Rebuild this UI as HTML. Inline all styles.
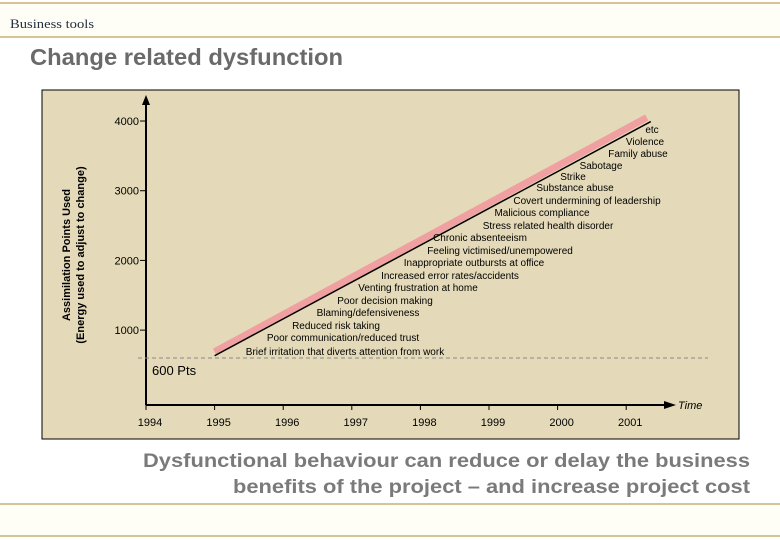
<!DOCTYPE html>
<html><head><meta charset="utf-8"><style>
html,body{margin:0;padding:0;background:#fff;width:780px;height:540px;overflow:hidden;font-family:"Liberation Sans",sans-serif}
</style></head><body>
<svg width="780" height="540" viewBox="0 0 780 540" xmlns="http://www.w3.org/2000/svg">
<rect x="0" y="3" width="780" height="34" fill="#fffef6"/>
<line x1="0" y1="3" x2="780" y2="3" stroke="#c8b070" stroke-width="1.5"/>
<line x1="0" y1="37" x2="780" y2="37" stroke="#c8b070" stroke-width="1.5"/>
<text x="10" y="28" font-family="Liberation Serif,serif" font-size="13" fill="#223040" textLength="84" lengthAdjust="spacingAndGlyphs">Business tools</text>
<text x="30" y="65" font-size="23" font-weight="bold" fill="#6a6a6a" textLength="313" lengthAdjust="spacingAndGlyphs">Change related dysfunction</text>
<rect x="42" y="90" width="697" height="349" fill="#e4dab9" stroke="#000" stroke-width="1"/>
<g id="chart"></g>
<text x="143" y="467" font-size="19" font-weight="bold" fill="#7a7a7a" textLength="607" lengthAdjust="spacingAndGlyphs">Dysfunctional behaviour can reduce or delay the business</text>
<text x="233" y="493" font-size="19" font-weight="bold" fill="#7a7a7a" textLength="517" lengthAdjust="spacingAndGlyphs">benefits of the project – and increase project cost</text>
<rect x="0" y="504" width="780" height="32" fill="#fffef6"/>
<line x1="0" y1="504" x2="780" y2="504" stroke="#c8b070" stroke-width="1.5"/>
<line x1="0" y1="536" x2="780" y2="536" stroke="#c8b070" stroke-width="1.5"/>
</svg>
<script>
const years=[1994,1995,1996,1997,1998,1999,2000,2001];
const yTicks=[1000,2000,3000,4000];
const threshold=[600];
const lineYears=[1995,2001.3];
const lineValues=[690,4050];
const labels=["etc","Violence","Family abuse","Sabotage","Strike","Substance abuse","Covert undermining of leadership","Malicious compliance","Stress related health disorder","Chronic absenteeism","Feeling victimised/unempowered","Inappropriate outbursts at office","Increased error rates/accidents","Venting frustration at home","Poor decision making","Blaming/defensiveness","Reduced risk taking","Poor communication/reduced trust","Brief irritation that diverts attention from work"];
const labelX=[652,645,638,601,573,575,587,542,548,480,500,474,450,418,385,368,336,343,345];
const labelY=[130,142,154,166,177,188,201,213,226,238,251,263,276,288,301,313,326,338,352];
const NS="http://www.w3.org/2000/svg";
const g=document.getElementById('chart');
function X(v){return 146+(v-1994)*68.6;}
function Y(v){return 358-(v-600)*0.0697;}
function mk(t,a,p){const e=document.createElementNS(NS,t);for(const k in a)e.setAttribute(k,a[k]);(p||g).appendChild(e);return e;}
let e=mk('line',{x1:146,y1:405,x2:146,y2:100,stroke:'#000','stroke-width':2});


e=mk('polygon',{points:'146,95 142,105 150,105',fill:'#000'});


e=mk('line',{x1:146,y1:405,x2:668,y2:405,stroke:'#000','stroke-width':2});


e=mk('polygon',{points:'676,405 664,401 664,409',fill:'#000'});


e=mk('text',{x:678,y:409,'font-size':11,'font-style':'italic',fill:'#000'});e.textContent='Time';


years.forEach(y=>{
 e=mk('line',{x1:X(y),y1:405,x2:X(y),y2:410,stroke:'#000'});
 
 
 e=mk('text',{x:X(y)+4,y:426,'font-size':11,'text-anchor':'middle',fill:'#000'});e.textContent=y;
 
 
});
yTicks.forEach(v=>{
 e=mk('line',{x1:140,y1:Y(v),x2:146,y2:Y(v),stroke:'#000'});
 
 
 e=mk('text',{x:139,y:Y(v)+4,'font-size':11,'text-anchor':'end',fill:'#000'});e.textContent=v;
 
 
});
e=mk('text',{'font-size':11,'font-weight':'bold','text-anchor':'middle',fill:'#000',transform:'translate(70,255) rotate(-90)'});


let t1=mk('tspan',{x:0,dy:0},e);t1.textContent='Assimilation Points Used';
let t2=mk('tspan',{x:0,dy:14},e);t2.textContent='(Energy used to adjust to change)';
threshold.forEach(v=>{
 e=mk('line',{x1:138,y1:Y(v),x2:708,y2:Y(v),stroke:'#888','stroke-dasharray':'4,3'});
 
 
 e=mk('text',{x:152,y:Y(v)+17,'font-size':13,fill:'#000'});e.textContent=v+' Pts';
 
 
});
e=mk('line',{x1:X(lineYears[0]),y1:Y(lineValues[0]),x2:X(lineYears[1]),y2:Y(lineValues[1]),stroke:'#f0a0a0','stroke-width':7});


e=mk('line',{x1:X(lineYears[0]),y1:Y(lineValues[0])+4,x2:X(lineYears[1])+4,y2:Y(lineValues[1])+4,stroke:'#000','stroke-width':1.5});


labels.forEach((s,i)=>{
 e=mk('text',{x:labelX[i],y:labelY[i]+3,'font-size':10,'text-anchor':'middle',fill:'#000'});e.textContent=s;
 
 
});
</script>
</body></html>
